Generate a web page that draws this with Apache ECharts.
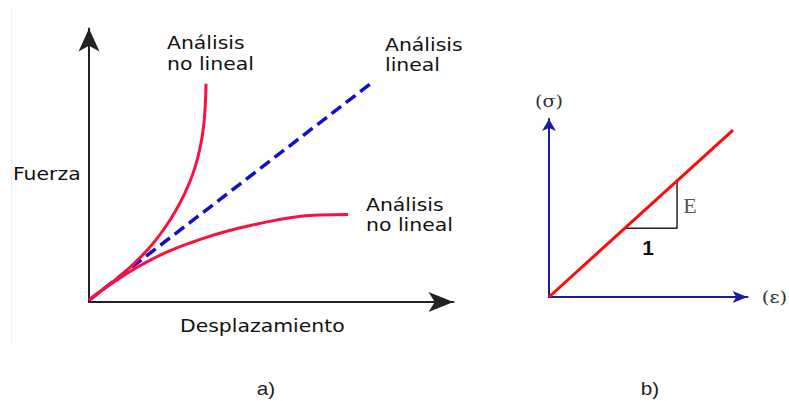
<!DOCTYPE html>
<html>
<head>
<meta charset="utf-8">
<title>Análisis lineal y no lineal</title>
<script src="https://cdn.jsdelivr.net/npm/echarts@6/dist/echarts.min.js"></script>
<style>
  html, body { margin: 0; padding: 0; background: #ffffff; }
  #chart { width: 789px; height: 401px; }
</style>
</head>
<body>
<div id="chart"></div>
<script>
// Panel a): force vs displacement, values in relative units (0..100 on each axis)
const stiffeningCurve = [
  [0, 0.7], [4.7, 5.5], [9.1, 10.2], [12.6, 14.4], [15.8, 18.7], [19.0, 23.8],
  [22.2, 29.9], [25.0, 36.3], [27.2, 42.5], [29.1, 49.3], [30.5, 56.6],
  [31.4, 63.8], [31.9, 72.0], [32.1, 79.8]
];
const softeningCurve = [
  [0, 0.7], [4.4, 5.1], [9.9, 10.0], [15.4, 14.3], [21.8, 18.5], [29.1, 22.2],
  [37.3, 25.7], [46.5, 28.6], [55.6, 30.9], [63.0, 31.8], [71.1, 32.0]
];
const linearLine = [[0, 0.7], [78.0, 80.6]];

// Panel b): stress vs strain, relative units
const elasticLine = [[0, 0], [92.7, 93.8]];
const slopeTriangle = [[38.5, 38.6], [64.5, 38.6], [64.5, 65.0]];

// Text labels
const curveLabels = ['Análisis\nno lineal', 'Análisis\nlineal', 'Análisis\nno lineal'];
const axisTitlesA = ['Fuerza', 'Desplazamiento'];
const axisTitlesB = ['(σ)', '(ε)'];
const slopeLabels = ['E', '1'];
const panelLabels = ['a)', 'b)'];

const RED = '#f7123f';
const BLUE_DASH = '#1010cc';
const NAVY = '#1c1ca0';
const INK = '#111111';

function valueAxis(gridIndex, color, width, arrowSize) {
  return {
    type: 'value',
    gridIndex: gridIndex,
    min: 0,
    max: 100,
    axisLine: {
      show: true,
      onZero: false,
      symbol: ['none', 'arrow'],
      symbolSize: arrowSize,
      lineStyle: { color: color, width: width }
    },
    axisTick: { show: false },
    axisLabel: { show: false },
    splitLine: { show: false }
  };
}

function label(text, x, y, opts) {
  opts = opts || {};
  return {
    type: 'text',
    x: x,
    y: y,
    scaleX: opts.scaleX || 1,
    z: 10,
    silent: true,
    style: {
      text: text,
      x: 0,
      y: 0,
      fill: opts.color || INK,
      font: opts.font || '17px "DejaVu Sans"',
      textAlign: opts.align || 'left',
      textVerticalAlign: 'middle',
      verticalAlign: 'middle',
      lineHeight: opts.lineHeight || 20
    }
  };
}

const sansLabel = { scaleX: 1.2, font: '17px "DejaVu Sans"' };

const chart = echarts.init(document.getElementById('chart'), null, { renderer: 'svg' });

chart.setOption({
  animation: false,
  backgroundColor: '#ffffff',
  grid: [
    { left: 89, top: 28.5, width: 364.5, height: 273.5 },
    { left: 549, top: 119, width: 198.5, height: 178 }
  ],
  xAxis: [
    valueAxis(0, '#222222', 2, [15, 25]),
    valueAxis(1, NAVY, 2, [9, 15])
  ],
  yAxis: [
    valueAxis(0, '#222222', 2, [15.75, 23]),
    valueAxis(1, NAVY, 2, [10.5, 12])
  ],
  series: [
    {
      name: 'Análisis lineal',
      type: 'line',
      xAxisIndex: 0, yAxisIndex: 0,
      data: linearLine,
      symbol: 'none',
      z: 3,
      lineStyle: { color: BLUE_DASH, width: 3.5, type: [12, 6] }
    },
    {
      name: 'Análisis no lineal (rigidización)',
      type: 'line',
      xAxisIndex: 0, yAxisIndex: 0,
      data: stiffeningCurve,
      smooth: true,
      symbol: 'none',
      z: 4,
      lineStyle: { color: RED, width: 3 }
    },
    {
      name: 'Análisis no lineal (ablandamiento)',
      type: 'line',
      xAxisIndex: 0, yAxisIndex: 0,
      data: softeningCurve,
      smooth: true,
      symbol: 'none',
      z: 4,
      lineStyle: { color: RED, width: 3 }
    },
    {
      name: 'Pendiente',
      type: 'line',
      xAxisIndex: 1, yAxisIndex: 1,
      data: slopeTriangle,
      symbol: 'none',
      z: 3,
      lineStyle: { color: '#222222', width: 1.5 }
    },
    {
      name: 'Elástico lineal',
      type: 'line',
      xAxisIndex: 1, yAxisIndex: 1,
      data: elasticLine,
      symbol: 'none',
      z: 4,
      lineStyle: { color: '#ff0a0a', width: 3 }
    }
  ],
  graphic: [
    // faint frame edge of panel a)
    {
      type: 'line',
      silent: true,
      shape: { x1: 11.5, y1: 9, x2: 11.5, y2: 345 },
      style: { stroke: '#efefef', lineWidth: 1 }
    },
    label(curveLabels[0], 167, 53.3, Object.assign({ lineHeight: 21 }, sansLabel)),
    label(curveLabels[1], 385, 55.5, Object.assign({ lineHeight: 20 }, sansLabel)),
    label(curveLabels[2], 366, 215.5, Object.assign({ lineHeight: 20 }, sansLabel)),
    label(axisTitlesA[0], 13, 173.8, sansLabel),
    label(axisTitlesA[1], 180, 325.8, sansLabel),
    label(axisTitlesB[0], 549, 102, { align: 'center', scaleX: 1.2, font: '16px "DejaVu Serif"', color: '#333333' }),
    label(axisTitlesB[1], 774.5, 296.5, { align: 'center', scaleX: 1.15, font: '17px "DejaVu Serif"', color: '#333333' }),
    label(slopeLabels[0], 690, 205.5, { align: 'center', font: '22px "Liberation Serif"', color: '#555555' }),
    label(slopeLabels[1], 648, 247, { align: 'center', font: 'bold 21px "Liberation Sans"', color: '#111111' }),
    label(panelLabels[0], 266, 389, { align: 'center', scaleX: 1.15, font: '18px "Liberation Sans"', color: '#222222' }),
    label(panelLabels[1], 650, 389, { align: 'center', scaleX: 1.15, font: '18px "Liberation Sans"', color: '#222222' })
  ]
});
</script>
</body>
</html>
